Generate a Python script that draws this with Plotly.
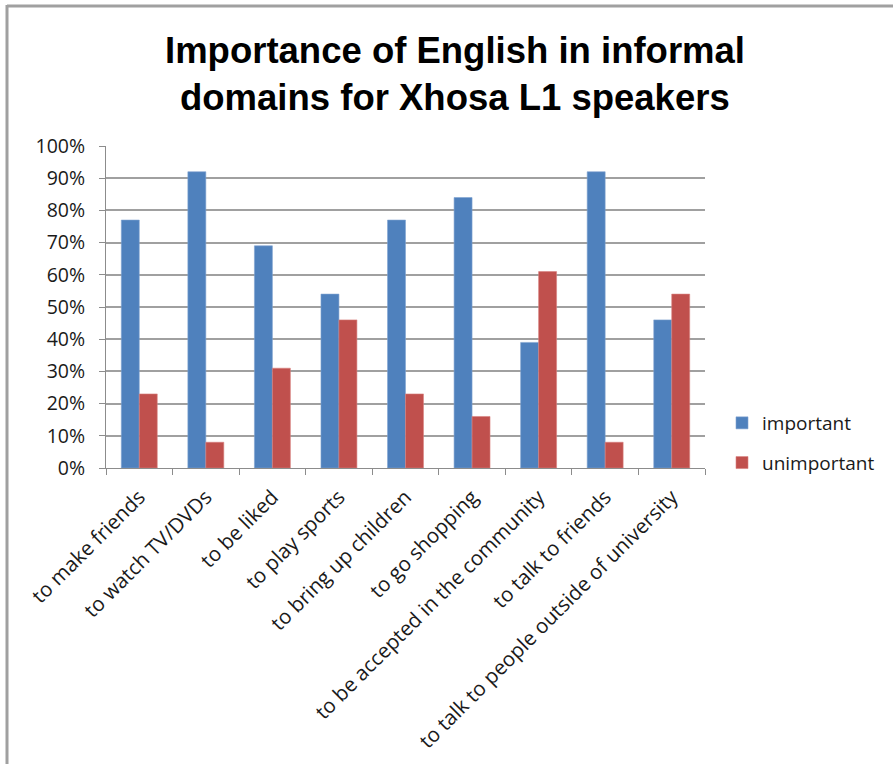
import plotly.graph_objects as go

categories = [
    "to make friends",
    "to watch TV/DVDs",
    "to be liked",
    "to play sports",
    "to bring up children",
    "to go shopping",
    "to be accepted in the community",
    "to talk to friends",
    "to talk to people outside of university",
]
important = [77, 92, 69, 54, 77, 84, 39, 92, 46]
unimportant = [23, 8, 31, 46, 23, 16, 61, 8, 54]
title_lines = ["Importance of English in informal", "domains for Xhosa L1 speakers"]

W, H = 893, 764
L, R, T, B = 106, 188, 146, 296
pw, ph = W - L - R, H - T - B

def px_x(x):
    return (x - L) / pw

def px_y(y):
    return (H - B - y) / ph

fig = go.Figure()
fig.add_trace(go.Bar(x=categories, y=[v / 100 for v in important], name="important",
                     marker=dict(color="#4F81BD", line=dict(color="#7FA3D0", width=0.6)),
                     legendgroup="a"))
fig.add_trace(go.Bar(x=categories, y=[v / 100 for v in unimportant], name="unimportant",
                     marker=dict(color="#C0504D", line=dict(color="#D98280", width=0.6)),
                     legendgroup="b"))

for i, line in enumerate(title_lines):
    fig.add_annotation(text="<b>%s</b>" % line, xref="paper", yref="paper",
                       x=px_x(455), y=px_y(50 + 48 * i), xanchor="center", yanchor="middle",
                       showarrow=False,
                       font=dict(family="Liberation Sans, Arial, sans-serif", size=36.5, color="#000000"))

# outer frame of the chart area
fig.add_shape(type="line", xref="paper", yref="paper", x0=px_x(7), x1=px_x(893),
              y0=px_y(6), y1=px_y(6), line=dict(color="#A0A0A0", width=3))
fig.add_shape(type="line", xref="paper", yref="paper", x0=px_x(7), x1=px_x(7),
              y0=px_y(5), y1=px_y(764), line=dict(color="#A0A0A0", width=3))

fig.update_layout(
    width=W, height=H,
    margin=dict(l=L, r=R, t=T, b=B, autoexpand=False),
    paper_bgcolor="white", plot_bgcolor="white",
    barmode="group", bargap=0.46, bargroupgap=0,
    font=dict(family="Open Sans, Liberation Sans, sans-serif", size=19, color="#1A1A1A"),
    legend=dict(x=px_x(722), y=px_y(404), xanchor="left", yanchor="top",
                font=dict(size=19, color="#1A1A1A"), tracegroupgap=12,
                traceorder="grouped", itemwidth=30),
    showlegend=True,
)
fig.update_xaxes(tickangle=-45, showline=True, linecolor="#8C8C8C", linewidth=1,
                 ticks="outside", ticklen=6, tickcolor="#8C8C8C", tickson="boundaries",
                 ticklabelstandoff=8, automargin=False,
                 showgrid=False, fixedrange=True, tickfont=dict(size=20.5))
fig.update_yaxes(range=[0, 1], tickvals=[i / 10 for i in range(11)], tickformat=".0%",
                 showline=True, linecolor="#8C8C8C", linewidth=1,
                 ticks="outside", ticklen=6, tickcolor="#8C8C8C", ticklabelstandoff=10,
                 showgrid=True, gridcolor="#A0A0A0", gridwidth=1.5, zeroline=False,
                 automargin=False, tickfont=dict(size=19.5), fixedrange=True)

fig.write_html("out.html")
